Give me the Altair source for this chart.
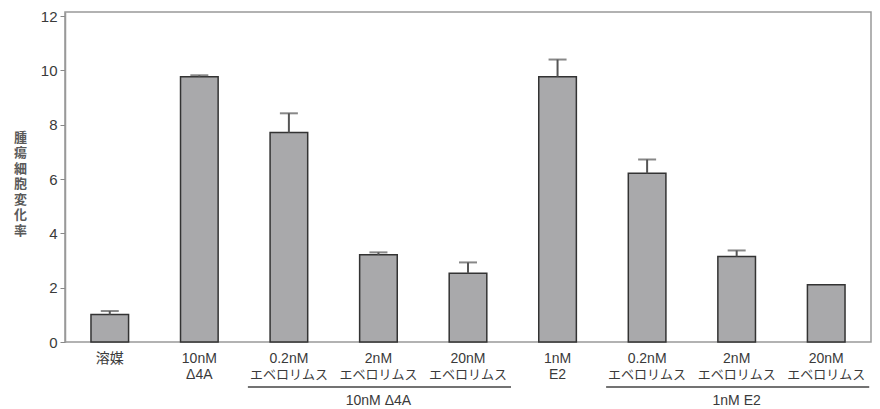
import altair as alt
import pandas as pd

ids = ["c1", "c2", "c3", "c4", "c5", "c6", "c7", "c8", "c9"]
line1 = ["溶媒", "10nM", "0.2nM", "2nM", "20nM", "1nM", "0.2nM", "2nM", "20nM"]
line2 = ["", "Δ4A", "エベロリムス", "エベロリムス", "エベロリムス", "E2",
         "エベロリムス", "エベロリムス", "エベロリムス"]
values = [1.01, 9.77, 7.71, 3.21, 2.53, 9.77, 6.21, 3.15, 2.11]
errs = [1.14, 9.82, 8.42, 3.30, 2.93, 10.40, 6.72, 3.37, None]

group_labels = ["10nM Δ4A", "1nM E2"]
group_start = ["c3", "c7"]
group_center = ["c4", "c8"]
group_end = ["c5", "c9"]

y_ticks = [0, 2, 4, 6, 8, 10, 12]
y_title = list("腫瘍細胞変化率")

df = pd.DataFrame({"id": ids, "l1": line1, "l2": line2, "v": values, "err": errs})
gdf = pd.DataFrame({"label": group_labels, "s": group_start, "c": group_center, "e": group_end})

FONT = "Liberation Sans"
JFONT = "Noto Sans CJK JP"
MIX = "Liberation Sans, Noto Sans CJK JP"
TXT = "#3a3a3a"

xscale = alt.Scale(domain=ids, paddingInner=0.58, paddingOuter=0.29)
xenc = alt.X("id:N", scale=xscale, axis=None)
yscale = alt.Scale(domain=[0, 12.15], nice=False)

base = alt.Chart(df)

bars = base.mark_bar(fill="#a9a9ab", stroke="#333333", strokeWidth=1.5).encode(
    x=xenc,
    y=alt.Y("v:Q", scale=yscale,
            axis=alt.Axis(values=y_ticks, title=y_title, titleAngle=0,
                          titleFont=JFONT, titleFontSize=13, titleColor="#5a5a5a",
                          titleFontWeight="bold",
                          titleLineHeight=15.5, titleX=-45, titleY=119,
                          titleAlign="center", titleBaseline="top",
                          labelFont=FONT, labelFontSize=15, labelColor=TXT,
                          tickSize=5, tickColor="#888888", labelPadding=3,
                          grid=False, domainColor="#999999", domainWidth=1.5)),
)

err_line = base.transform_filter("datum.err != null").mark_rule(
    color="#555555", strokeWidth=2).encode(
    x=xenc, y=alt.Y("v:Q", scale=yscale), y2="err:Q")

err_cap = base.transform_filter("datum.err != null").mark_tick(
    color="#555555", thickness=2, size=18).encode(
    x=xenc, y=alt.Y("err:Q", scale=yscale))

lab1 = base.mark_text(font=MIX, fontSize=14, color=TXT, baseline="middle").encode(
    x=xenc, y=alt.value(347), text="l1:N")
lab2 = base.mark_text(font=MIX, color=TXT, baseline="middle").encode(
    x=xenc, y=alt.value(362.5), text="l2:N",
    size=alt.condition("length(datum.l2) > 3", alt.value(13), alt.value(14)))

gbase = alt.Chart(gdf)
grule = gbase.mark_rule(color="#444444", strokeWidth=1.5, xOffset=-41, x2Offset=43).encode(
    x=alt.X("s:N", scale=xscale, axis=None, bandPosition=0.5),
    x2=alt.X2("e:N", bandPosition=0.5),
    y=alt.value(375))
gtext = gbase.mark_text(font=MIX, fontSize=14, color=TXT, baseline="middle").encode(
    x=alt.X("c:N", scale=xscale, axis=None),
    y=alt.value(389), text="label:N")

chart = alt.layer(bars, err_line, err_cap, lab1, lab2, grule, gtext).properties(
    width=806, height=330,
    autosize=alt.AutoSizeParams(type="none"),
    padding={"left": 57, "top": 4, "right": 1, "bottom": 66},
).configure_view(stroke="#999999", strokeWidth=1.5)

chart.save("out.html", embed_options={"renderer": "svg", "actions": False})
